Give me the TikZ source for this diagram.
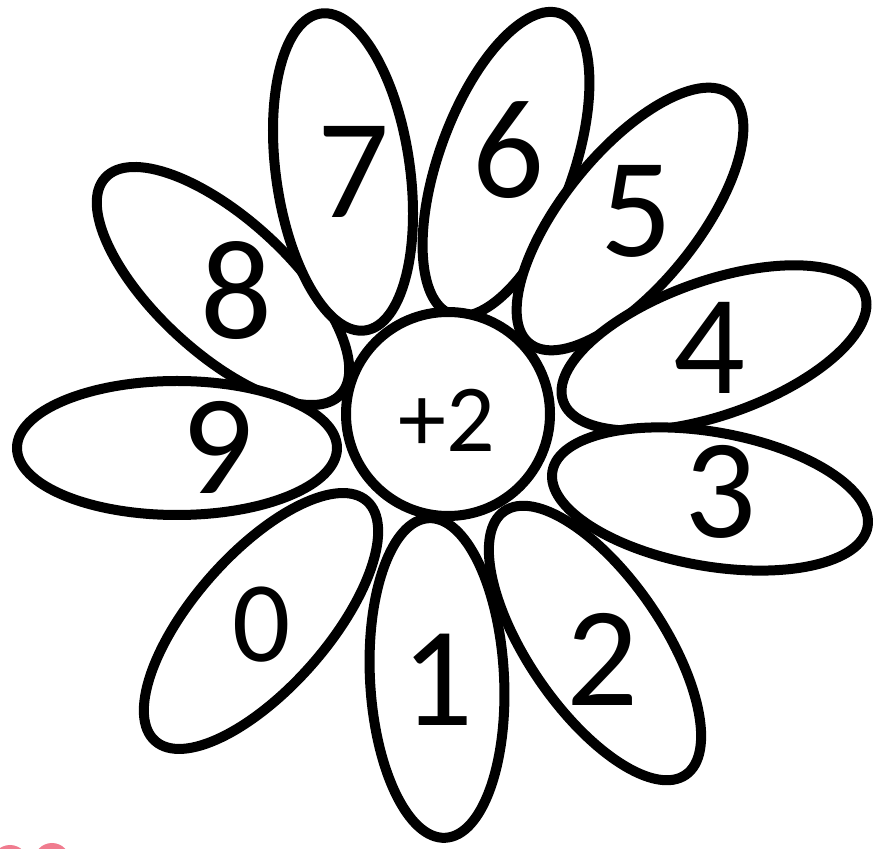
\documentclass[tikz,border=0pt]{standalone}
\usepackage{fontspec}
\setmainfont{Carlito}
\usepackage{tikz}
\usepackage{xcolor}
\definecolor{FlowerInk}{HTML}{000000}
\definecolor{BudPink}{HTML}{F07C8F}

\begin{document}
\begin{tikzpicture}[x=1pt,y=1pt,
  petal/.style={draw=FlowerInk,fill=white,line width=10pt},
  digit/.style={font=\fontsize{142}{142}\selectfont,inner sep=0pt}]
  \useasboundingbox (0,0) rectangle (876,849);
  % stray pink shapes cut off at the lower left
  \begin{scope}
    \clip (0,0) rectangle (876,849);
    \fill[BudPink] (10,-14) circle (18);
    \fill[BudPink] (52,-12) circle (18);
  \end{scope}
  % petals: centre and tilt of the long axis
  \foreach \cx/\cy/\tilt in {223/563/-42.6, 177/401/0, 343/677/98,
      506/685/70, 630/630/51, 714/501/19.5, 710/350/-10,
      595/206/-55.5, 437/171/93, 261/228/48.6}
    \draw[petal,rotate around={\tilt:(\cx,\cy)}] (\cx,\cy) ellipse [x radius=160,y radius=67];
  \node[petal,circle,minimum size=204pt,inner sep=0pt] (hub) at (448,435) {};
  \node[font=\fontsize{96}{96}\selectfont,inner sep=0pt] (rule) at (447,429) {+2};
  % numbers on the petals
  \node[digit] (d0) at (262,224) {\fontsize{115}{115}\selectfont 0};
  \node[digit] (d1) at (437,169) {1};
  \node[digit] (d2) at (602,190) {2};
  \node[digit] (d3) at (720,357) {3};
  \node[digit] (d4) at (709,501) {4};
  \node[digit] (d5) at (636,638) {5};
  \node[digit] (d6) at (508,699) {6};
  \node[digit] (d7) at (353,677) {7};
  \node[digit] (d8) at (236,558) {8};
  \node[digit] (d9) at (217,402) {9};
\end{tikzpicture}
\end{document}
